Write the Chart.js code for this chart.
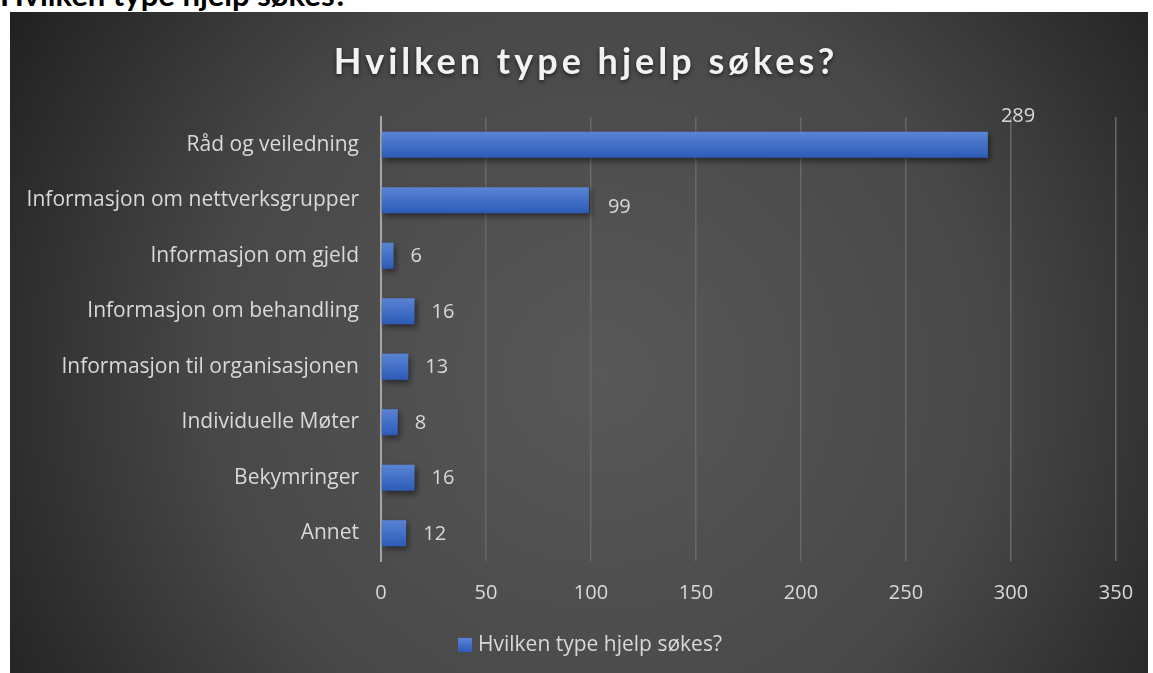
<!DOCTYPE html>
<html>
<head>
<meta charset="utf-8">
<script src="https://cdn.jsdelivr.net/npm/chart.js@4"></script>
<style>
  html, body { margin: 0; padding: 0; background: #fff; overflow: hidden; }
  #heading {
    position: absolute; left: 0px; top: -21px; margin: 0;
    font: bold 31px/31px Lato, "Open Sans", sans-serif; color: #000;
    white-space: nowrap;
  }
  #wrap { position: absolute; left: 10px; top: 12px; width: 1138px; height: 661px; }
</style>
</head>
<body>
<p id="heading">Hvilken type hjelp søkes?</p>
<div id="wrap"><canvas id="chart"></canvas></div>
<script>
const chartTitle = "Hvilken type hjelp søkes?";
const categories = [
  "Råd og veiledning",
  "Informasjon om nettverksgrupper",
  "Informasjon om gjeld",
  "Informasjon om behandling",
  "Informasjon til organisasjonen",
  "Individuelle Møter",
  "Bekymringer",
  "Annet"
];
const counts = [289, 99, 6, 16, 13, 8, 16, 12];
const xTicks = [0, 50, 100, 150, 200, 250, 300, 350];

const textColor = "#d9d9d9";
const font = "'Open Sans', Lato, sans-serif";
const titleFont = "Lato, 'Open Sans', sans-serif";

// dark radial background behind everything
const backgroundPlugin = {
  id: "bg",
  beforeDraw(chart) {
    const ctx = chart.ctx;
    const w = chart.width, h = chart.height;
    const g = ctx.createRadialGradient(w * 0.52, h * 0.55, 0, w * 0.52, h * 0.55, w * 0.62);
    g.addColorStop(0, "#585858");
    g.addColorStop(0.55, "#484848");
    g.addColorStop(1, "#1f1f1f");
    ctx.save();
    ctx.fillStyle = g;
    ctx.fillRect(0, 0, w, h);
    ctx.restore();
  }
};

// title with letter spacing and shadow, plus the legend under the axis
const titlePlugin = {
  id: "bigTitle",
  afterDraw(chart) {
    const ctx = chart.ctx;
    ctx.save();
    ctx.font = "bold 36px " + titleFont;
    ctx.letterSpacing = "4px";
    ctx.fillStyle = "#f2f2f2";
    ctx.textAlign = "center";
    ctx.textBaseline = "middle";
    ctx.shadowColor = "rgba(0,0,0,0.6)";
    ctx.shadowBlur = 4;
    ctx.shadowOffsetY = 2;
    ctx.fillText(chartTitle, 576, 50);
    ctx.restore();

    ctx.save();
    const g = ctx.createLinearGradient(0, 626, 0, 640);
    g.addColorStop(0, "#5a84d4");
    g.addColorStop(1, "#2c5bb8");
    ctx.fillStyle = g;
    ctx.fillRect(448, 626, 14, 14);
    ctx.font = "21px " + font;
    ctx.fillStyle = textColor;
    ctx.textBaseline = "middle";
    ctx.fillText(chart.data.datasets[0].label, 468, 633);
    ctx.restore();
  }
};

// gradient fill + shadow on bars
const barStylePlugin = {
  id: "barStyle",
  beforeDatasetsDraw(chart) {
    const ctx = chart.ctx;
    chart.getDatasetMeta(0).data.forEach(el => {
      const top = el.y - el.height / 2, bottom = el.y + el.height / 2;
      const g = ctx.createLinearGradient(0, top, 0, bottom);
      g.addColorStop(0, "#5a84d4");
      g.addColorStop(1, "#2c5bb8");
      el.options.backgroundColor = g;
    });
    ctx.save();
    ctx.shadowColor = "rgba(0,0,0,0.5)";
    ctx.shadowBlur = 6;
    ctx.shadowOffsetX = 2;
    ctx.shadowOffsetY = 3;
  },
  afterDatasetsDraw(chart) {
    const ctx = chart.ctx;
    ctx.restore();
    // value labels at bar ends
    ctx.save();
    ctx.font = "20px " + font;
    ctx.fillStyle = textColor;
    ctx.textBaseline = "middle";
    ctx.textAlign = "left";
    chart.getDatasetMeta(0).data.forEach((el, i) => {
      const v = counts[i];
      if (v > 250) {
        ctx.fillText(String(v), el.x + 13, el.y - 28);
      } else if (v > 50) {
        ctx.fillText(String(v), el.x + 19, el.y + 7);
      } else {
        ctx.fillText(String(v), el.x + 17, el.y + 1);
      }
    });
    ctx.restore();
  }
};

new Chart(document.getElementById("chart"), {
  type: "bar",
  data: {
    labels: categories,
    datasets: [{
      label: chartTitle,
      data: counts,
      // scriptable so every bar gets its own options object (own gradient)
      backgroundColor: () => "#4472c4",
      categoryPercentage: 1,
      barPercentage: 0.47
    }]
  },
  options: {
    indexAxis: "y",
    responsive: true,
    maintainAspectRatio: false,
    animation: false,
    layout: { padding: { top: 105, right: 32, left: 0, bottom: 62 } },
    scales: {
      x: {
        min: 0, max: 350,
        afterBuildTicks: s => { s.ticks = xTicks.map(v => ({ value: v })); },
        afterFit: s => { s.height = 50; s.paddingRight = 10; },
        grid: { color: "#686868", lineWidth: 1.5, drawTicks: false },
        border: { display: false },
        ticks: { color: textColor, font: { family: font, size: 20 }, padding: 20 }
      },
      y: {
        afterFit: s => { s.width = 371; },
        grid: { display: false, drawTicks: false },
        border: { display: true, color: "#a6a6a6", width: 2 },
        ticks: { color: textColor, font: { family: font, size: 21 }, padding: 22 }
      }
    },
    plugins: {
      title: { display: false },
      tooltip: { enabled: false },
      legend: { display: false }
    }
  },
  plugins: [backgroundPlugin, titlePlugin, barStylePlugin]
});
</script>
</body>
</html>
